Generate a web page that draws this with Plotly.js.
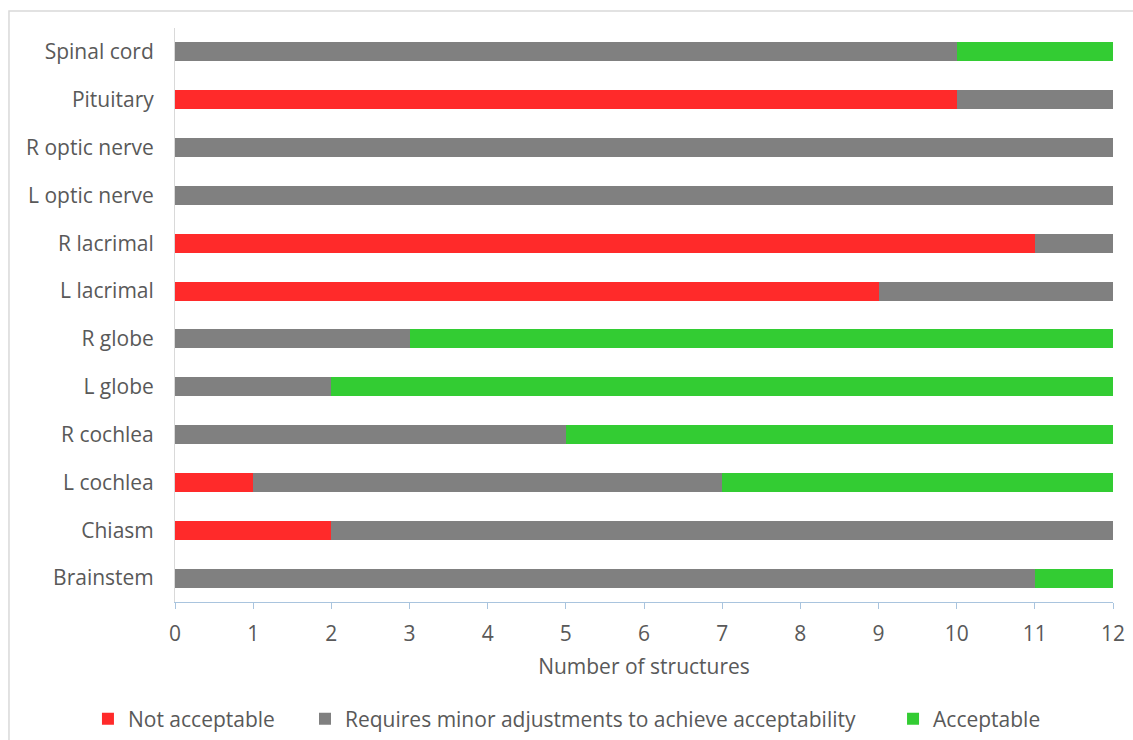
<!DOCTYPE html>
<html>
<head>
<meta charset="utf-8">
<script src="https://cdn.plot.ly/plotly-3.0.1.min.js"></script>
<style>
  html, body { margin: 0; padding: 0; background: #ffffff; }
  #chart { width: 1133px; height: 740px; }
</style>
</head>
<body>
<div id="chart"></div>
<script>
// Structures, listed bottom to top as they appear on the axis
const structures = ["Brainstem", "Chiasm", "L cochlea", "R cochlea", "L globe", "R globe",
  "L lacrimal", "R lacrimal", "L optic nerve", "R optic nerve", "Pituitary", "Spinal cord"];

// Counts of structures per rating
const notAcceptable = [0, 2, 1, 0, 0, 0, 9, 11, 0, 0, 10, 0];
const minorAdjust   = [11, 10, 6, 5, 2, 3, 3, 1, 12, 12, 2, 10];
const acceptable    = [1, 0, 5, 7, 10, 9, 0, 0, 0, 0, 0, 2];

const seriesNames = ["Not acceptable", "Requires minor adjustments to achieve acceptability", "Acceptable"];
const xTicks = [0, 1, 2, 3, 4, 5, 6, 7, 8, 9, 10, 11, 12];

const font = "Open Sans, Liberation Sans, sans-serif";
const textColor = "#595959";
const fontSize = 21;

function barTrace(name, values, color, legendId) {
  return {
    type: "bar",
    orientation: "h",
    name: name,
    y: structures,
    x: values,
    legend: legendId,
    marker: { color: color, line: { width: 0 } },
    hoverinfo: "x+y+name"
  };
}

const data = [
  barTrace(seriesNames[0], notAcceptable, "#ff2a2a", "legend"),
  barTrace(seriesNames[1], minorAdjust, "#808080", "legend2"),
  barTrace(seriesNames[2], acceptable, "#33cc33", "legend3")
];

// One legend box per series so each key sits under its own slot
function legendAt(x) {
  return {
    orientation: "h",
    x: x,
    xanchor: "left",
    y: -0.2038,
    yanchor: "middle",
    bgcolor: "rgba(0,0,0,0)",
    font: { family: font, size: fontSize, color: textColor },
    itemclick: false,
    itemdoubleclick: false
  };
}

const layout = {
  width: 1133,
  height: 740,
  margin: { l: 175, r: 20, t: 28, b: 138, autoexpand: false },
  paper_bgcolor: "#ffffff",
  plot_bgcolor: "#ffffff",
  barmode: "stack",
  bargap: 0.6,
  font: { family: font, size: fontSize, color: textColor },
  xaxis: {
    range: [0, 12],
    tickvals: xTicks,
    ticktext: xTicks.map(String),
    showgrid: false,
    zeroline: false,
    showline: true,
    linecolor: "#a9c4de",
    linewidth: 1,
    ticks: "outside",
    ticklen: 6,
    tickcolor: "#a9c4de",
    ticklabelstandoff: 7,
    tickfont: { family: font, size: fontSize, color: textColor },
    title: { text: "Number of structures", font: { family: font, size: fontSize, color: textColor }, standoff: 13 },
    automargin: false,
    fixedrange: true
  },
  yaxis: {
    type: "category",
    categoryorder: "array",
    categoryarray: structures,
    showgrid: false,
    zeroline: false,
    showline: true,
    linecolor: "#d9d9d9",
    linewidth: 1,
    ticks: "",
    ticklabelstandoff: 16,
    tickfont: { family: font, size: fontSize, color: textColor },
    automargin: false,
    fixedrange: true
  },
  legend: legendAt(-0.0928),
  legend2: legendAt(0.1386),
  legend3: legendAt(0.7655),
  shapes: [
    {
      type: "rect",
      xref: "paper", yref: "paper",
      x0: -0.177, x1: 1.03, y0: -0.26, y1: 1.0296,
      line: { color: "#d9d9d9", width: 1.5 },
      fillcolor: "rgba(0,0,0,0)",
      layer: "below"
    }
  ],
  showlegend: true
};

Plotly.newPlot("chart", data, layout, { displayModeBar: false, responsive: false });
</script>
</body>
</html>
